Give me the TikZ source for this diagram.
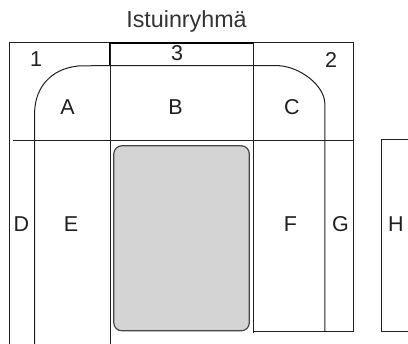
\documentclass[tikz,border=0pt]{standalone}
\usepackage{fontspec}
\setmainfont{Liberation Sans}
\tikzset{
  x=1pt,y=-1pt,
  plan/.style={draw=black!88,line width=1pt},
  thick plan/.style={draw=black,line width=1.5pt},
  seat/.style={draw=black!72,line width=1.2pt,fill=black!17,rounded corners=8pt},
  lab/.style={inner sep=0pt,anchor=base,text=black!88,font=\fontsize{21.5}{24}\selectfont},
  ttl/.style={inner sep=0pt,anchor=base,text=black!80,font=\fontsize{23.3}{26}\selectfont}
}
\begin{document}
\begin{tikzpicture}
\useasboundingbox (0,0) rectangle (408,344);
% frame and grid
\draw[plan] (9.7,344) -- (9.7,43) -- (353,43) -- (353,332) -- (253,332);
\draw[plan] (12.7,141) -- (353,141);
\draw[plan] (110,43) -- (110,344);
\draw[plan] (253.3,43) -- (253.3,333);
% curved band
\draw[plan] (34.7,344) -- (34.7,110) .. controls (36,88) and (50,69) .. (78,66) -- (100,65.6) -- (279,65.7)
  .. controls (300,67) and (324,85) .. (324.8,103) -- (324.8,332);
% emphasised top cell
\draw[thick plan] (109.3,65) -- (109.3,43) -- (253.3,43);
% H block
\draw[plan] (408,140) -- (381,140) -- (381,332) -- (408,332);
% seat
\draw[seat] (113.8,145.8) rectangle (249.3,330.8);
% labels
\node[ttl] (title) at (186.5,28) {Istuinryhmä};
\node[lab] (n1) at (36,67) {1};
\node[lab] (n3) at (177,60.5) {3};
\node[lab] (n2) at (331,67.5) {2};
\node[lab] (a) at (67.5,115) {A};
\node[lab] (b) at (175.5,115) {B};
\node[lab] (c) at (292,115) {C};
\node[lab] (d) at (21.5,232) {D};
\node[lab] (e) at (71,232) {E};
\node[lab] (f) at (290.5,232) {F};
\node[lab] (g) at (340.5,232) {G};
\node[lab] (h) at (396,232) {H};
\end{tikzpicture}
\end{document}
